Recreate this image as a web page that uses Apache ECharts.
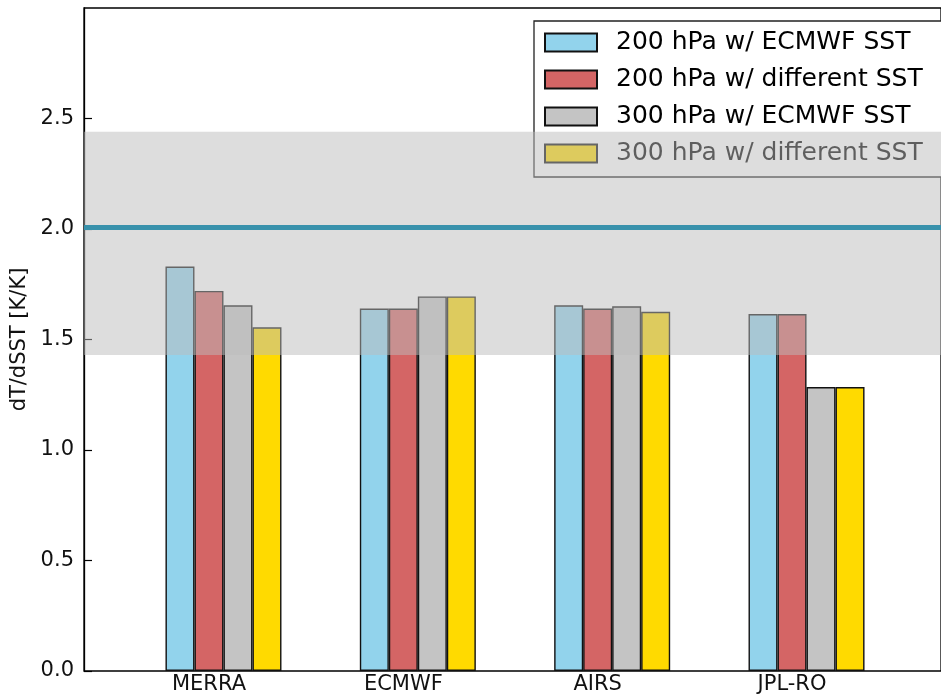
<!DOCTYPE html>
<html>
<head>
<meta charset="utf-8">
<script src="https://cdn.jsdelivr.net/npm/echarts@6/dist/echarts.min.js"></script>
<style>
  html, body { margin: 0; padding: 0; background: #fff; }
  #chart { width: 941px; height: 698px; }
</style>
</head>
<body>
<div id="chart"></div>
<script>
// data
const categories = ['MERRA', 'ECMWF', 'AIRS', 'JPL-RO'];
const seriesNames = ['200 hPa w/ ECMWF SST', '200 hPa w/ different SST', '300 hPa w/ ECMWF SST', '300 hPa w/ different SST'];
const hpa200Ecmwf = [1.83, 1.64, 1.655, 1.615];
const hpa200Diff = [1.72, 1.64, 1.64, 1.615];
const hpa300Ecmwf = [1.655, 1.695, 1.65, 1.285];
const hpa300Diff = [1.555, 1.695, 1.625, 1.285];
const bandRange = [1.43, 2.44];
const refLine = 2.01;
const yMin = 0, yMax = 3, yStep = 0.5;

const colors = ['#92d3ec', '#d46565', '#c4c4c4', '#ffda00'];
const values = [hpa200Ecmwf, hpa200Diff, hpa300Ecmwf, hpa300Diff];
const font = 'DejaVu Sans';

const barSeries = values.map((vals, i) => ({
    name: seriesNames[i],
    type: 'bar',
    xAxisIndex: 1,
    yAxisIndex: 1,
    barWidth: 29,
    barGap: '0%',
    z: 2,
    itemStyle: { color: colors[i], borderColor: '#111', borderWidth: 1.4 },
    data: vals
}));

const option = {
    animation: false,
    legend: {
        data: seriesNames,
        orient: 'vertical',
        left: 534,
        top: 21,
        z: 3,
        padding: [9, 20, 11, 10],
        itemWidth: 52,
        itemHeight: 18,
        itemGap: 12,
        backgroundColor: '#fff',
        borderColor: '#222',
        borderWidth: 1.3,
        borderRadius: 0,
        icon: 'rect',
        textStyle: { fontFamily: font, fontSize: 25, lineHeight: 25, color: '#000', padding: [0, 0, 0, 14] }
    },
    grid: [
        { left: 84, top: 8, right: -20, bottom: 27, show: true, borderColor: '#000', borderWidth: 1.3, backgroundColor: 'transparent' },
        { left: 111.8, top: 8, right: 51.8, bottom: 27 }
    ],
    xAxis: [
        { type: 'value', gridIndex: 0, min: 0, max: 1, show: false },
        {
            type: 'category', gridIndex: 1, data: categories, position: 'bottom',
            axisLine: { show: false },
            axisTick: { inside: true, alignWithLabel: true, length: 6, lineStyle: { color: '#000', width: 1.2 } },
            axisLabel: { fontFamily: font, fontSize: 21, color: '#111', margin: 3 }
        },
        {
            type: 'category', gridIndex: 1, data: categories, position: 'top',
            axisLine: { show: false },
            axisTick: { inside: true, alignWithLabel: true, length: 6, lineStyle: { color: '#000', width: 1.2 } },
            axisLabel: { show: false }
        }
    ],
    yAxis: [
        {
            type: 'value', gridIndex: 0, min: yMin, max: yMax, interval: yStep,
            name: 'dT/dSST [K/K]', nameLocation: 'middle', nameGap: 52,
            nameTextStyle: { fontFamily: font, fontSize: 21, color: '#111' },
            axisLine: { show: true, lineStyle: { color: '#000', width: 1.3 } },
            axisTick: { show: true, inside: true, length: 8, lineStyle: { color: '#000', width: 1.2 } },
            axisLabel: { fontFamily: font, fontSize: 21, color: '#111', margin: 10, showMaxLabel: false,
                formatter: v => v.toFixed(1) },
            splitLine: { show: false }
        },
        { type: 'value', gridIndex: 1, min: yMin, max: yMax, interval: yStep, show: false }
    ],
    series: [
        // empty slot so each category label sits under the second bar, as in the figure
        { name: 'spacer', type: 'bar', xAxisIndex: 1, yAxisIndex: 1, barWidth: 29, barGap: '0%', data: categories.map(() => '-') },
        ...barSeries,
        {
            type: 'line',
            xAxisIndex: 0,
            yAxisIndex: 0,
            data: [],
            markArea: {
                silent: true,
                z: 5,
                itemStyle: { color: 'rgba(187,187,187,0.5)' },
                data: [[{ yAxis: bandRange[0] }, { yAxis: bandRange[1] }]]
            },
            markLine: {
                silent: true,
                z: 6,
                symbol: 'none',
                label: { show: false },
                lineStyle: { color: '#3891ab', width: 5, type: 'solid' },
                data: [{ yAxis: refLine }]
            }
        }
    ]
};

const myChart = echarts.init(document.getElementById('chart'));
myChart.setOption(option);
window.addEventListener('resize', () => myChart.resize());
</script>
</body>
</html>
